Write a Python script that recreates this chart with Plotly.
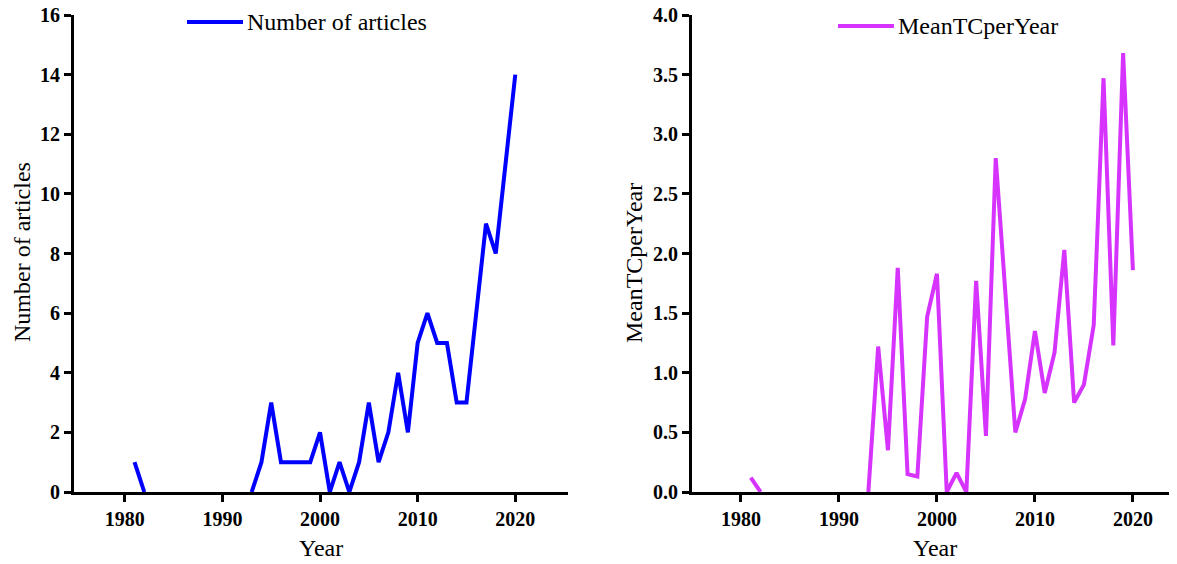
import plotly.graph_objects as go

years = list(range(1981, 2021))
# None = year not drawn in the reference (gap)
articles = [1, 0, None, None, None, None, None, None, None, None, None, None,
            0, 1, 3, 1, 1, 1, 1, 2, 0, 1, 0, 1, 3, 1, 2, 4, 2, 5, 6, 5, 5, 3, 3,
            6, 9, 8, 11, 14]
mean_tc = [0.12, 0.0, None, None, None, None, None, None, None, None, None, None,
           0.0, 1.22, 0.35, 1.88, 0.15, 0.13, 1.47, 1.83, 0.0, 0.16, 0.0, 1.77,
           0.47, 2.80, 1.65, 0.50, 0.78, 1.35, 0.83, 1.17, 2.03, 0.75, 0.90,
           1.40, 3.47, 1.23, 3.68, 1.86]
xticks = [1980, 1990, 2000, 2010, 2020]

BLUE = "#0000FF"
MAGENTA = "#D633FF"
SERIF = "Liberation Serif, Times New Roman, serif"

OFF = 8  # page body margin
W, H = 1177 - OFF, 564 - OFF
ML, MR, MT, MB = 74 - OFF, 0, 15 - OFF, 564 - 492
PW = W - ML - MR
PH = H - MT - MB

# page-pixel -> paper coordinates
def px2x(px):
    return (px - OFF - ML) / PW

def px2y(py):
    return 1 - (py - OFF - MT) / PH

fig = go.Figure()
fig.add_trace(go.Scatter(x=years, y=articles, mode="lines", name="Number of articles",
                         line=dict(color=BLUE, width=4), connectgaps=False,
                         xaxis="x", yaxis="y", showlegend=False))
fig.add_trace(go.Scatter(x=years, y=mean_tc, mode="lines", name="MeanTCperYear",
                         line=dict(color=MAGENTA, width=4), connectgaps=False,
                         xaxis="x2", yaxis="y2", showlegend=False))

axis_common = dict(showgrid=False, zeroline=False, showline=True, linecolor="black",
                   linewidth=3, ticks="outside", ticklen=7, tickwidth=3, tickcolor="black",
                   automargin=False, ticklabeloverflow="allow",
                   tickfont=dict(family=SERIF, size=20, color="black", weight="bold"))

fig.update_layout(
    width=W, height=H, paper_bgcolor="white", plot_bgcolor="white",
    margin=dict(l=ML, r=MR, t=MT, b=MB),
    xaxis=dict(domain=[0, px2x(568)], range=[1974.8, 2025.4], tickvals=xticks,
               anchor="y", **axis_common),
    yaxis=dict(domain=[0, 1], range=[0, 16], dtick=2, anchor="x", **axis_common),
    xaxis2=dict(domain=[px2x(692), 1], range=[1975, 2024.5], tickvals=xticks,
                anchor="y2", **axis_common),
    yaxis2=dict(domain=[0, 1], range=[0, 4], dtick=0.5, tickformat=".1f", anchor="x2",
                **axis_common),
)

TF = dict(family=SERIF, size=24, color="black")

# axis titles
fig.add_annotation(xref="paper", yref="paper", x=px2x(321), y=px2y(548), text="Year",
                   showarrow=False, xanchor="center", yanchor="middle", font=TF)
fig.add_annotation(xref="paper", yref="paper", x=px2x(935), y=px2y(548), text="Year",
                   showarrow=False, xanchor="center", yanchor="middle", font=TF)
fig.add_annotation(xref="paper", yref="paper", x=px2x(22), y=px2y(252), text="Number of articles",
                   showarrow=False, xanchor="center", yanchor="middle", textangle=-90, font=TF)
fig.add_annotation(xref="paper", yref="paper", x=px2x(634), y=px2y(263), text="MeanTCperYear",
                   showarrow=False, xanchor="center", yanchor="middle", textangle=-90, font=TF)

# legends (line sample + label)
def add_legend(x0px, x1px, ypx, text, color):
    y = px2y(ypx)
    fig.add_shape(type="line", xref="paper", yref="paper",
                  x0=px2x(x0px), x1=px2x(x1px), y0=y, y1=y,
                  line=dict(color=color, width=4))
    fig.add_annotation(xref="paper", yref="paper", x=px2x(x1px + 2), y=y,
                       xanchor="left", yanchor="middle", showarrow=False, text=text,
                       font=TF)

add_legend(187, 243, 22, "Number of articles", BLUE)
add_legend(838, 894, 26, "MeanTCperYear", MAGENTA)

fig.write_html("out.html")
